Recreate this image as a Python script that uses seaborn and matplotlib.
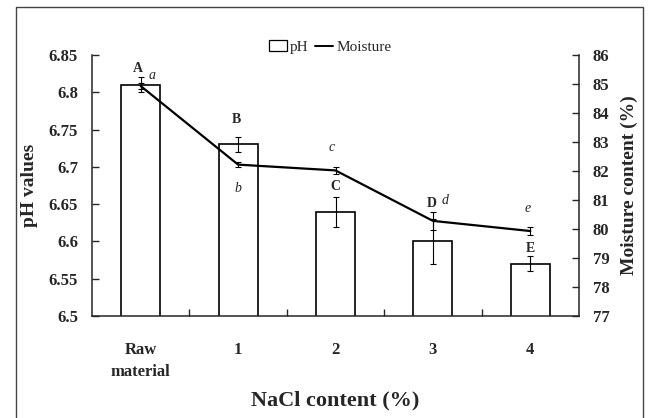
import numpy as np
import matplotlib
matplotlib.use("Agg")
import matplotlib.pyplot as plt
from matplotlib.patches import Patch
from matplotlib.lines import Line2D
import seaborn as sns

# data
categories = ["Raw\nmaterial", "1", "2", "3", "4"]
ph_values = [6.81, 6.73, 6.64, 6.60, 6.57]
ph_err = [0.01, 0.01, 0.02, 0.03, 0.01]
moisture = [84.93, 82.22, 82.02, 80.28, 79.93]
moisture_err = [0.10, 0.09, 0.13, 0.30, 0.13]
ph_letters = ["A", "B", "C", "D", "E"]
moisture_letters = ["a", "b", "c", "d", "e"]

sns.set_style("ticks")
plt.rcParams["font.family"] = ["Liberation Serif", "DejaVu Serif"]

fig = plt.figure(figsize=(6.53, 4.18), dpi=100)
ax = fig.add_axes([92 / 653, 1 - 316 / 418, (579 - 92) / 653, (316 - 55) / 418])

# pH bars
sns.barplot(x=categories, y=ph_values, color="white", edgecolor="black",
            linewidth=1.2, width=0.4, errorbar=None, ax=ax)
ax.errorbar(np.arange(len(categories)), ph_values, yerr=ph_err, fmt="none",
            ecolor="black", elinewidth=0.8, capsize=2.5, capthick=0.8)
ax.set_ylim(6.5, 6.85)
ax.set_yticks([6.5, 6.55, 6.6, 6.65, 6.7, 6.75, 6.8, 6.85])
ax.set_yticklabels(["6.5", "6.55", "6.6", "6.65", "6.7", "6.75", "6.8", "6.85"])

# moisture line on the right axis
ax2 = ax.twinx()
sns.lineplot(x=np.arange(len(categories)), y=moisture, color="black",
             linewidth=1.6, ax=ax2)
ax2.errorbar(np.arange(len(categories)), moisture, yerr=moisture_err, fmt="none",
             ecolor="black", elinewidth=0.8, capsize=2.5, capthick=0.8)
ax2.set_ylim(77, 86)
ax2.set_yticks(range(77, 87))
ax.set_xlim(-0.5, 4.5)

# spines / ticks
for a in (ax, ax2):
    a.spines["top"].set_visible(False)
    for s in a.spines.values():
        s.set_linewidth(1.1)
ax.spines["right"].set_visible(False)
ax2.spines["left"].set_visible(False)
ax2.spines["bottom"].set_visible(False)

ax.tick_params(axis="y", direction="in", length=5, width=1, pad=10)
ax2.tick_params(axis="y", direction="in", length=5, width=1, pad=10)
ax.tick_params(axis="x", which="major", length=0, pad=19)
ax.set_xticks(np.arange(0.5, 4.5, 1.0), minor=True)
ax.tick_params(axis="x", which="minor", direction="in", length=5, width=1)
for lab in ax.get_xticklabels() + ax.get_yticklabels() + ax2.get_yticklabels():
    lab.set_fontsize(12)
    lab.set_fontweight("bold")
for lab in ax.get_xticklabels():
    lab.set_linespacing(1.5)

ax.set_xlabel("NaCl content (%)", fontsize=16, fontweight="bold", labelpad=7)
ax.set_ylabel("pH values", fontsize=14, fontweight="bold", labelpad=8)
ax2.set_ylabel("Moisture content (%)", fontsize=14, fontweight="bold", labelpad=8)

# significance letters
ph_pos = [(-0.03, 6.832), (0.98, 6.763), (2.0, 6.673), (2.99, 6.651), (4.0, 6.591)]
for (x, y), t in zip(ph_pos, ph_letters):
    ax.text(x, y, t, ha="center", va="center", fontsize=10, fontweight="bold")
m_pos = [(0.12, 85.3), (1.0, 81.38), (1.96, 82.8), (3.12, 80.98), (3.97, 80.72)]
for (x, y), t in zip(m_pos, moisture_letters):
    ax2.text(x, y, t, ha="center", va="center", fontsize=10, fontstyle="italic")

# legend
handles = [Patch(facecolor="white", edgecolor="black", linewidth=0.9),
           Line2D([0], [0], color="black", linewidth=1.4)]
fig.legend(handles, ["pH", "Moisture"], loc="center",
           bbox_to_anchor=(330 / 653, 1 - 47 / 418), ncol=2, frameon=False,
           fontsize=11, handlelength=1.2, handleheight=0.7, handletextpad=0.2,
           columnspacing=0.4, borderpad=0)

# outer frame of the original figure
fig.add_artist(Line2D([16 / 653, 16 / 653, 643 / 653, 643 / 653],
                      [0, 1 - 7 / 418, 1 - 7 / 418, 0],
                      transform=fig.transFigure, color="#444444", linewidth=1))

fig.savefig("out.png", dpi=100)
